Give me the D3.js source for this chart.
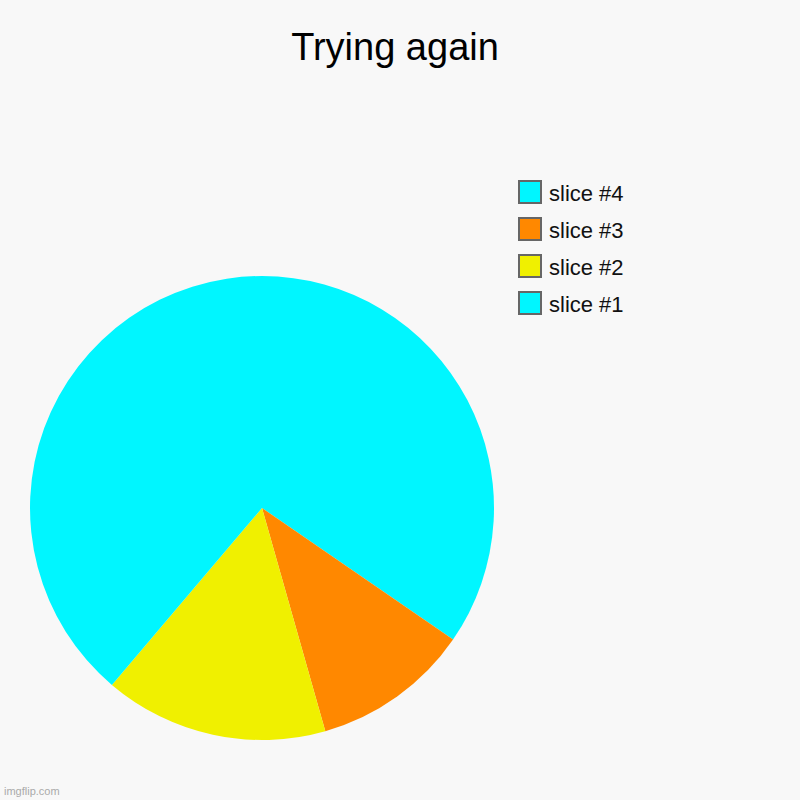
<!DOCTYPE html>
<html>
<head>
<meta charset="utf-8">
<script src="https://cdn.jsdelivr.net/npm/d3@7"></script>
<style>
  body { margin: 0; background: #f8f8f8; }
  svg { display: block; }
</style>
</head>
<body>
<script>
// slice data, as drawn clockwise from 12 o'clock (legend lists them top to bottom)
var sliceNames = ['slice #4', 'slice #3', 'slice #2', 'slice #1'];
var sliceValues = [34.6, 11.0, 15.6, 38.8];
var sliceColors = ['#00f6ff', '#ff8800', '#f0f000', '#00f6ff'];

var width = 800, height = 800;

var svg = d3.select('body').append('svg')
  .attr('width', width)
  .attr('height', height)
  .style('font-family', '"Liberation Sans", Arial, sans-serif');

svg.append('rect').attr('width', width).attr('height', height).attr('fill', '#f8f8f8');

// title
svg.append('text')
  .attr('x', 395)
  .attr('y', 60)
  .attr('text-anchor', 'middle')
  .attr('font-size', 38)
  .attr('fill', '#000')
  .text('Trying again');

// pie
var pie = d3.pie().sort(null).value(d => d);
var arc = d3.arc().innerRadius(0).outerRadius(232);

var pieGroup = svg.append('g').attr('transform', 'translate(262,508)');

pieGroup.selectAll('path')
  .data(pie(sliceValues))
  .enter().append('path')
    .attr('d', arc)
    .attr('fill', (d, i) => sliceColors[i]);

// legend
var legend = svg.append('g').attr('transform', 'translate(519,181)');

var rows = legend.selectAll('g.row')
  .data(sliceNames)
  .enter().append('g')
    .attr('class', 'row')
    .attr('transform', (d, i) => 'translate(0,' + i * 37 + ')');

rows.append('rect')
  .attr('width', 22)
  .attr('height', 22)
  .attr('fill', (d, i) => sliceColors[i])
  .attr('stroke', '#666')
  .attr('stroke-width', 2);

rows.append('text')
  .attr('x', 30)
  .attr('y', 19.5)
  .attr('font-size', 22)
  .attr('fill', '#111')
  .text(d => d);

// watermark
svg.append('text')
  .attr('x', 4)
  .attr('y', 795)
  .attr('font-size', 11)
  .attr('fill', '#aaa')
  .text('imgflip.com');
</script>
</body>
</html>
